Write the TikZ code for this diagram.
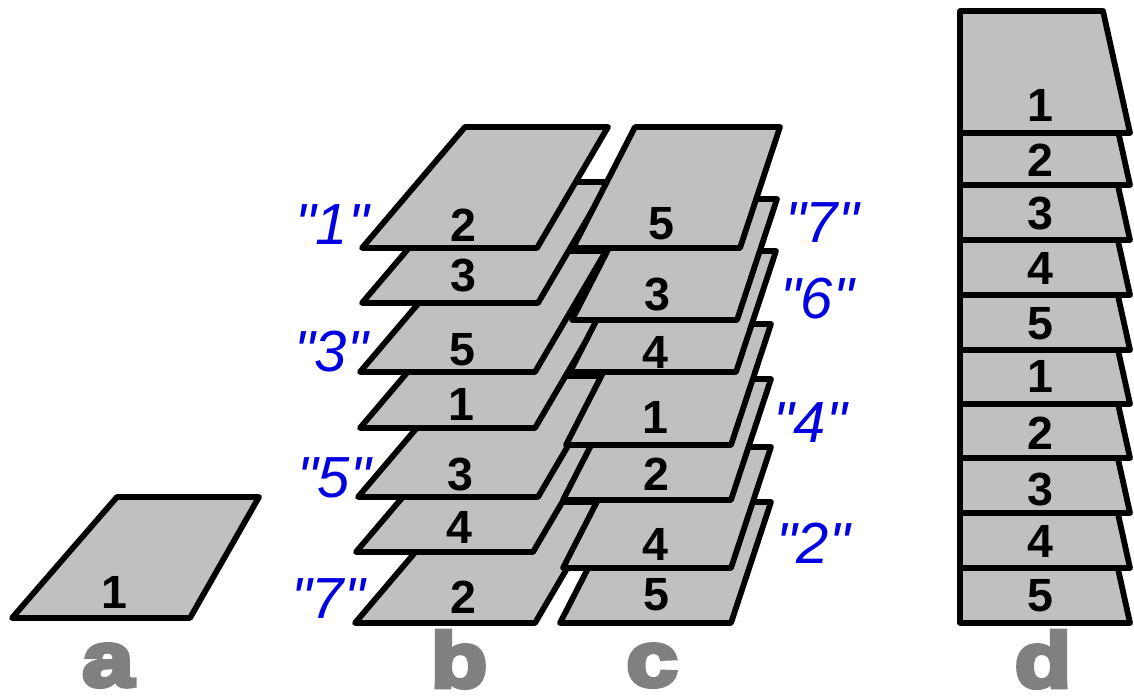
\documentclass[tikz,border=0pt]{standalone}
\usepackage{fontspec}
\newfontfamily\digfont{Liberation Sans}
\newfontfamily\bluefont{Liberation Sans}
\newfontfamily\bigfont{Liberation Sans}[FakeBold=6,FakeStretch=1.2]
\definecolor{sheetgray}{RGB}{192,192,192}
\definecolor{lettergray}{RGB}{128,128,128}
\definecolor{labelblue}{RGB}{0,0,225}
\newcommand{\sheetpath}[6]{\filldraw[sheet] (#1,#3) -- (#2,#3) -- ({#2+#5},{#3-#6}) -- ({#1+#4},{#3-#6}) -- cycle;}
\tikzset{
  sheet/.style={fill=sheetgray, draw=black, line width=3.3pt, line join=round},
  num/.style={font=\digfont\bfseries\fontsize{26.5pt}{26.5pt}\selectfont, anchor=base, inner sep=0pt},
  blue lab/.style={font=\bluefont\itshape\fontsize{33pt}{33pt}\selectfont, text=labelblue, anchor=base, inner sep=0pt},
  panel/.style={font=\bigfont\bfseries\fontsize{44pt}{44pt}\selectfont, text=lettergray, anchor=base, inner sep=0pt}
}
\begin{document}
\begin{tikzpicture}[x=0.02cm, y=-0.02cm]
\useasboundingbox (0,0) rectangle (1134,696);
% sheets b and c, from back (lowest) to front (highest)
\sheetpath{355}{535}{623}{103}{71}{121}
\sheetpath{560}{731}{623}{62}{40}{121}
\sheetpath{12}{190}{618}{105}{69}{121}
\sheetpath{563}{731}{568}{62}{40}{121}
\sheetpath{356}{533}{552}{103}{71}{121}
\sheetpath{563}{731}{500}{62}{40}{121}
\sheetpath{358}{538}{497}{103}{71}{121}
\sheetpath{566}{731}{445}{62}{40}{121}
\sheetpath{360}{535}{428}{103}{71}{121}
\sheetpath{360}{535}{372}{103}{71}{121}
\sheetpath{570}{736}{372}{62}{40}{121}
\sheetpath{572}{737}{320}{62}{40}{121}
\sheetpath{362}{538}{303}{103}{71}{121}
\sheetpath{362}{537}{248}{103}{71}{121}
\sheetpath{573}{740}{248}{62}{40}{121}
% sheets d
\sheetpath{960}{1130}{623}{0}{-27}{122}
\sheetpath{960}{1130}{568}{0}{-27}{122}
\sheetpath{960}{1130}{513}{0}{-27}{122}
\sheetpath{960}{1130}{458}{0}{-27}{122}
\sheetpath{960}{1130}{404}{0}{-27}{122}
\sheetpath{960}{1130}{350}{0}{-27}{122}
\sheetpath{960}{1130}{295}{0}{-27}{122}
\sheetpath{960}{1130}{240}{0}{-27}{122}
\sheetpath{960}{1130}{185}{0}{-27}{122}
\sheetpath{960}{1130}{133}{0}{-27}{122}
% numbers a
\node[num] (a1) at (114,608) {1};
% numbers b
\node[num] (b1) at (463,242) {2};
\node[num] (b2) at (463,292) {3};
\node[num] (b3) at (462,365) {5};
\node[num] (b4) at (461,420) {1};
\node[num] (b5) at (460,490) {3};
\node[num] (b6) at (459,543) {4};
\node[num] (b7) at (463,613) {2};
% numbers c
\node[num] (c1) at (661,240) {5};
\node[num] (c2) at (657,311) {3};
\node[num] (c3) at (655,368) {4};
\node[num] (c4) at (655,433) {1};
\node[num] (c5) at (656,490) {2};
\node[num] (c6) at (655,560) {4};
\node[num] (c7) at (656,610) {5};
% numbers d
\node[num] (d1) at (1040,122) {1};
\node[num] (d2) at (1040,177) {2};
\node[num] (d3) at (1040,230) {3};
\node[num] (d4) at (1040,285) {4};
\node[num] (d5) at (1040,339) {5};
\node[num] (d6) at (1040,393) {1};
\node[num] (d7) at (1040,449) {2};
\node[num] (d8) at (1040,505) {3};
\node[num] (d9) at (1040,557) {4};
\node[num] (d10) at (1040,611) {5};
% blue labels
\node[blue lab] (lb1) at (332,245) {"1"};
\node[blue lab] (lb3) at (331,372) {"3"};
\node[blue lab] (lb5) at (334,497) {"5"};
\node[blue lab] (lb7) at (328,618) {"7"};
\node[blue lab] (lc7) at (822,243) {"7"};
\node[blue lab] (lc6) at (817,318) {"6"};
\node[blue lab] (lc4) at (810,442) {"4"};
\node[blue lab] (lc2) at (813,563) {"2"};
% panel letters
\node[panel] (pa) at (108,686) {a};
\node[panel] (pb) at (459,687) {b};
\node[panel] (pc) at (652,686) {c};
\node[panel] (pd) at (1043,687) {d};
\end{tikzpicture}
\end{document}
